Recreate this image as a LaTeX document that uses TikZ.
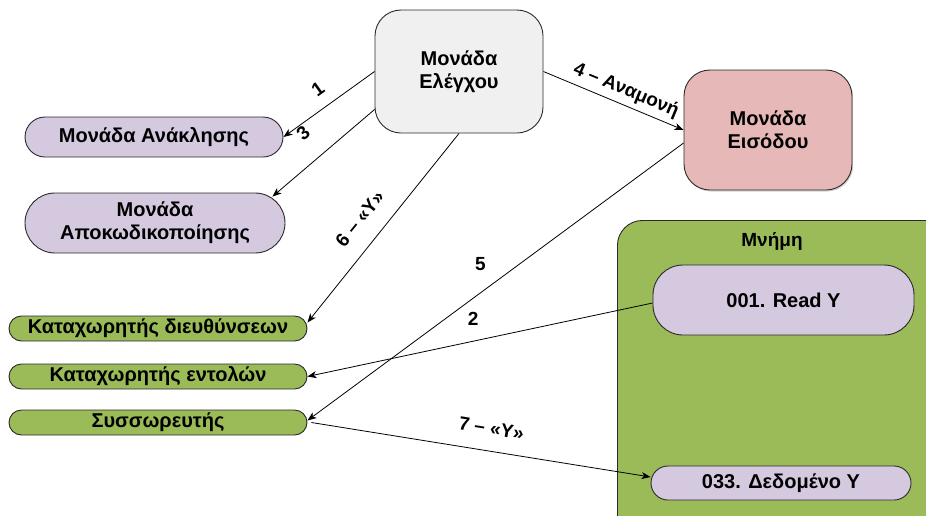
\documentclass[tikz,border=0pt]{standalone}
\usepackage{fontspec}
\setmainfont{Liberation Sans}
\usetikzlibrary{arrows.meta,shadows}
\definecolor{ctrlfill}{HTML}{F0F0F0}
\definecolor{inpfill}{HTML}{E6B8B7}
\definecolor{lav}{HTML}{D4C9DF}
\definecolor{grn}{HTML}{9BBB59}
\definecolor{bord}{HTML}{2A2A2A}
\begin{document}
\begin{tikzpicture}[x=1pt,y=-1pt,
  box/.style={draw=bord, line width=0.9pt, align=center, inner sep=0pt,
    font=\fontsize{20}{23}\selectfont\bfseries},
  shad/.style={drop shadow={shadow xshift=1.2pt, shadow yshift=-1.5pt, opacity=0.35}},
  regbox/.style={box, fill=grn, rounded corners=12.5pt, minimum width=298pt, minimum height=25pt},
  conn/.style={draw=black, line width=0.8pt, -{Stealth[length=9pt,width=7pt,inset=2.5pt]}},
  lbl/.style={font=\fontsize{19}{22}\selectfont\bfseries, inner sep=1pt}]
\useasboundingbox (0,0) rectangle (926,515);
% memory container
\node[box, fill=grn, shad, rounded corners=25pt, anchor=north west,
  minimum width=345pt, minimum height=330pt] (mem) at (617,220) {};
\node[lbl] (memt) at (772,241) {Μνήμη};
\node[box, fill=lav, rounded corners=30pt, minimum width=261pt, minimum height=70pt] (ready) at (783.5,300) {001. Read Y};
\node[box, fill=lav, rounded corners=17pt, minimum width=260pt, minimum height=34pt] (data) at (781,483) {033. Δεδομένο Y};
% units
\node[box, fill=ctrlfill, rounded corners=26pt, minimum width=168pt, minimum height=123pt] (ctrl) at (459,71.5) {Μονάδα\\Ελέγχου};
\node[box, fill=inpfill, shad, rounded corners=26pt, minimum width=168pt, minimum height=120pt] (inp) at (768,130) {Μονάδα\\Εισόδου};
\node[box, fill=lav, rounded corners=20pt, minimum width=258pt, minimum height=40pt] (rec) at (154,137) {Μονάδα Ανάκλησης};
\node[box, fill=lav, rounded corners=30pt, minimum width=260pt, minimum height=60pt] (dec) at (155,223) {Μονάδα\\Αποκωδικοποίησης};
% registers
\node[regbox] (areg) at (158,328.5) {Καταχωρητής διευθύνσεων};
\node[regbox] (ireg) at (158,376.5) {Καταχωρητής εντολών};
\node[regbox] (acc) at (158,422.5) {Συσσωρευτής};
% connectors
\draw[conn] (ctrl.west) -- node[lbl, sloped, pos=0.5, above=11pt] {1} (rec.east);
\draw[conn] ([yshift=-38pt]ctrl.west) -- node[lbl, sloped, pos=0.52, above=20pt] {3} ([xshift=-13pt,yshift=-4pt]dec.north east);
\draw[conn] (ctrl.east) -- node[lbl, sloped, pos=0.55, above=4pt] {4 – Αναμονή} (inp.west);
\draw[conn] (ctrl.south) -- node[lbl, sloped, pos=0.53, above=16pt] {6 – «Y»} ([yshift=6pt]areg.east);
\draw[conn] ([yshift=-13pt]inp.west) -- node[lbl, pos=0.54, above=21pt] {5} ([yshift=2pt]acc.east);
\draw[conn] ([yshift=-3pt]ready.west) -- node[lbl, pos=0.52, above=14pt] {2} (ireg.east);
\draw[conn] ([xshift=4pt]acc.east) -- node[lbl, sloped, pos=0.52, above=15pt] {7 – «Y»} ([yshift=6pt]data.west);
\end{tikzpicture}
\end{document}
